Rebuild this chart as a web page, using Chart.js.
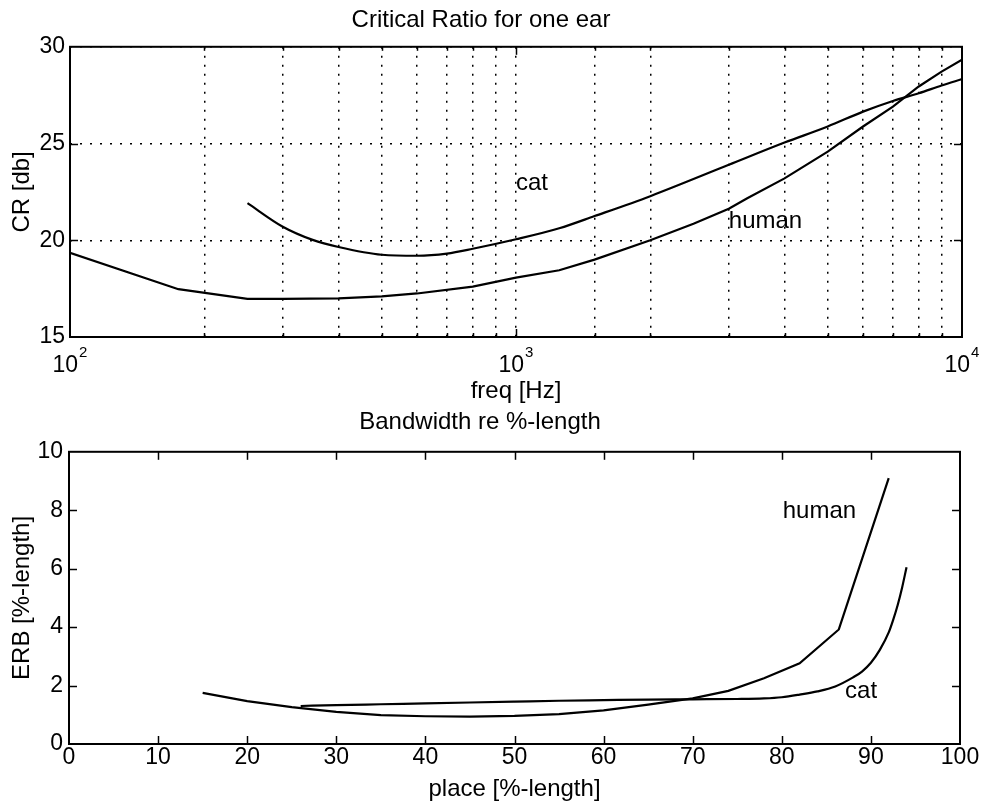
<!DOCTYPE html>
<html><head><meta charset="utf-8">
<script src="https://cdn.jsdelivr.net/npm/chart.js@4/dist/chart.umd.min.js"></script>
<style>
html,body{margin:0;padding:0;background:#fff;}
#wrap{position:relative;width:985px;height:805px;overflow:hidden;}
canvas{position:absolute;left:0;}
</style></head><body>
<div id="wrap">
<canvas id="c1" width="985" height="410" style="top:0"></canvas>
<canvas id="c2" width="985" height="410" style="top:395px"></canvas>
</div>
<script>
// ---------- data: top panel ----------
const crTitle = 'Critical Ratio for one ear';
const crXTitle = 'freq [Hz]';
const crYTitle = 'CR [db]';
const humanFreq = [100, 175, 250, 300, 400, 500, 600, 800, 1000, 1250, 1500, 2000, 2500, 3000, 3300, 4000, 5000, 6000, 7000, 8000, 9000, 10000];
const humanCR   = [19.35, 17.47, 16.97, 16.97, 17.0, 17.1, 17.25, 17.6, 18.07, 18.45, 19.0, 20.0, 20.85, 21.63, 22.17, 23.2, 24.58, 25.88, 26.91, 27.95, 28.72, 29.33];
const catFreq   = [250, 300, 350, 400, 500, 600, 700, 800, 1000, 1250, 1500, 2000, 3000, 4000, 5000, 6000, 7000, 8000, 9000, 10000];
const catCR     = [21.92, 20.7, 20.02, 19.65, 19.25, 19.2, 19.31, 19.56, 20.05, 20.62, 21.25, 22.28, 23.9, 25.05, 25.88, 26.65, 27.2, 27.6, 28.0, 28.33];
const freqTickValues = [100, 1000, 10000];
const freqTickBase = '10';
const freqTickExp = ['2', '3', '4'];
const crTickValues = [15, 20, 25, 30];
const crTickLabels = ['15', '20', '25', '30'];
const crLabelText = ['cat', 'human'];
const crLabelX = [1000, 3000];
const crLabelY = [22.95, 20.97];

// ---------- data: bottom panel ----------
const bwTitle = 'Bandwidth re %-length';
const bwXTitle = 'place [%-length]';
const bwYTitle = 'ERB [%-length]';
const humanPlace = [15, 20, 25, 30, 35, 40, 45, 50, 55, 60, 65, 70, 74, 78, 82, 86.4, 92];
const humanERB   = [1.75, 1.47, 1.26, 1.1, 0.99, 0.95, 0.94, 0.96, 1.02, 1.15, 1.35, 1.56, 1.82, 2.25, 2.76, 3.92, 9.1];
const catPlace   = [26, 30, 35, 40, 45, 50, 55, 60, 65, 70, 75, 78, 80, 82, 84, 86, 88, 89, 90, 91, 92, 92.5, 93, 93.5, 94];
const catERB     = [1.3, 1.33, 1.36, 1.39, 1.42, 1.45, 1.48, 1.5, 1.52, 1.53, 1.54, 1.56, 1.6, 1.69, 1.8, 1.97, 2.28, 2.48, 2.78, 3.22, 3.82, 4.25, 4.75, 5.35, 6.05];
const placeTickValues = [0, 10, 20, 30, 40, 50, 60, 70, 80, 90, 100];
const placeTickLabels = ['0', '10', '20', '30', '40', '50', '60', '70', '80', '90', '100'];
const erbTickValues = [0, 2, 4, 6, 8, 10];
const erbTickLabels = ['0', '2', '4', '6', '8', '10'];
const bwLabelText = ['human', 'cat'];
const bwLabelX = [80.1, 87.1];
const bwLabelY = [7.95, 1.8];

// ---------- rendering ----------
const FONT = "'Liberation Sans', Arial, Helvetica, sans-serif";
const pts = (xs, ys) => xs.map((x, i) => ({x: x, y: ys[i]}));
const lbl = (vals, labels) => (v) => { const i = vals.indexOf(v); return i < 0 ? '' : labels[i]; };

function makeFrame(cfg) {
  return {
    id: 'frame' + cfg.name,
    afterDraw(chart) {
      const ctx = chart.ctx;
      const {left, right, top, bottom} = chart.chartArea;
      const xs = chart.scales.x, ys = chart.scales.y;
      ctx.save();
      ctx.strokeStyle = '#000';
      ctx.lineWidth = 1.5;
      const seg = (a, b, c, d) => { ctx.beginPath(); ctx.moveTo(a, b); ctx.lineTo(c, d); ctx.stroke(); };
      xs.ticks.forEach(t => {
        if (t.value <= xs.min || t.value >= xs.max) return;
        const px = Math.round(xs.getPixelForValue(t.value)) + 0.5;
        let len = 8;
        if (cfg.logX) {
          const e = Math.log10(t.value);
          len = Math.abs(e - Math.round(e)) < 1e-9 ? 8 : 4;
        }
        seg(px, bottom, px, bottom - len);
        seg(px, top, px, top + len);
      });
      ys.ticks.forEach(t => {
        if (t.value <= ys.min || t.value >= ys.max) return;
        const py = Math.round(ys.getPixelForValue(t.value)) + 0.5;
        seg(left, py, left + 8, py);
        seg(right, py, right - 8, py);
      });
      ctx.lineWidth = 2;
      ctx.strokeRect(left, top, right - left, bottom - top);
      // in-plot text labels
      ctx.fillStyle = '#000';
      ctx.font = '24px ' + FONT;
      ctx.textAlign = 'left';
      ctx.textBaseline = 'middle';
      cfg.labelText.forEach((s, i) => {
        ctx.fillText(s, xs.getPixelForValue(cfg.labelX[i]), ys.getPixelForValue(cfg.labelY[i]));
      });
      // power-of-ten tick labels
      if (cfg.logX) {
        ctx.textBaseline = 'alphabetic';
        freqTickValues.forEach((v, i) => {
          const px = xs.getPixelForValue(v);
          ctx.font = '23px ' + FONT;
          const w1 = ctx.measureText(freqTickBase).width;
          ctx.font = '15px ' + FONT;
          const w2 = ctx.measureText(freqTickExp[i]).width;
          const x0 = px - (w1 + 1 + w2) / 2;
          ctx.font = '23px ' + FONT;
          ctx.fillText(freqTickBase, x0, bottom + 35);
          ctx.font = '15px ' + FONT;
          ctx.fillText(freqTickExp[i], x0 + w1 + 1, bottom + 20);
        });
      }
      ctx.restore();
    }
  };
}

const lineStyle = {borderColor: '#000', backgroundColor: '#000', borderWidth: 2.2, pointRadius: 0, fill: false};
const tickFont = {family: FONT, size: 23, weight: 'normal'};
const titleFont = {family: FONT, size: 24, weight: 'normal'};

new Chart(document.getElementById('c1'), {
  type: 'line',
  data: {datasets: [
    Object.assign({label: 'human', data: pts(humanFreq, humanCR), tension: 0}, lineStyle),
    Object.assign({label: 'cat', data: pts(catFreq, catCR), cubicInterpolationMode: 'monotone'}, lineStyle)
  ]},
  options: {
    responsive: false, animation: false, events: [],
    layout: {padding: {left: 0, right: 23, top: 0, bottom: 0}},
    plugins: {
      legend: {display: false}, tooltip: {enabled: false},
      title: {display: true, text: crTitle, color: '#000', font: titleFont, padding: {top: 6, bottom: 12}}
    },
    scales: {
      x: {
        type: 'logarithmic', min: 100, max: 10000,
        grid: {color: '#000', lineWidth: 1.5, drawTicks: false},
        border: {display: false, dash: [2, 7]},
        ticks: {autoSkip: false, maxRotation: 0, padding: 0, callback: () => ''},
        title: {display: true, text: crXTitle, color: '#000', font: titleFont, padding: {top: 0, bottom: 4}},
        afterFit: s => { s.height = 73; }
      },
      y: {
        min: 15, max: 30,
        grid: {color: '#000', lineWidth: 1.4, drawTicks: false},
        border: {display: false, dash: [2, 8]},
        ticks: {stepSize: 5, color: '#000', font: tickFont, padding: 5, callback: lbl(crTickValues, crTickLabels)},
        title: {display: true, text: crYTitle, color: '#000', font: titleFont, padding: {top: 8, bottom: 0}},
        afterFit: s => { s.width = 70; }
      }
    }
  },
  plugins: [makeFrame({name: 'top', logX: true, labelText: crLabelText, labelX: crLabelX, labelY: crLabelY})]
});

new Chart(document.getElementById('c2'), {
  type: 'line',
  data: {datasets: [
    Object.assign({label: 'human', data: pts(humanPlace, humanERB), tension: 0}, lineStyle),
    Object.assign({label: 'cat', data: pts(catPlace, catERB), cubicInterpolationMode: 'monotone'}, lineStyle)
  ]},
  options: {
    responsive: false, animation: false, events: [],
    layout: {padding: {left: 0, right: 25, top: 0, bottom: 0}},
    plugins: {
      legend: {display: false}, tooltip: {enabled: false},
      title: {display: true, text: bwTitle, color: '#000', font: titleFont, padding: {top: 13, bottom: 15}}
    },
    scales: {
      x: {
        type: 'linear', min: 0, max: 100,
        grid: {display: false, drawTicks: false},
        border: {display: false},
        ticks: {stepSize: 10, autoSkip: false, maxRotation: 0, color: '#000', font: tickFont, padding: 0, callback: lbl(placeTickValues, placeTickLabels)},
        title: {display: true, text: bwXTitle, color: '#000', font: titleFont, padding: {top: 0, bottom: 1}},
        afterFit: s => { s.height = 61; }
      },
      y: {
        min: 0, max: 10,
        grid: {display: false, drawTicks: false},
        border: {display: false},
        ticks: {stepSize: 2, color: '#000', font: tickFont, padding: 6, callback: lbl(erbTickValues, erbTickLabels)},
        title: {display: true, text: bwYTitle, color: '#000', font: titleFont, padding: {top: 8, bottom: 0}},
        afterFit: s => { s.width = 69; }
      }
    }
  },
  plugins: [makeFrame({name: 'bot', logX: false, labelText: bwLabelText, labelX: bwLabelX, labelY: bwLabelY})]
});
</script>
</body></html>
